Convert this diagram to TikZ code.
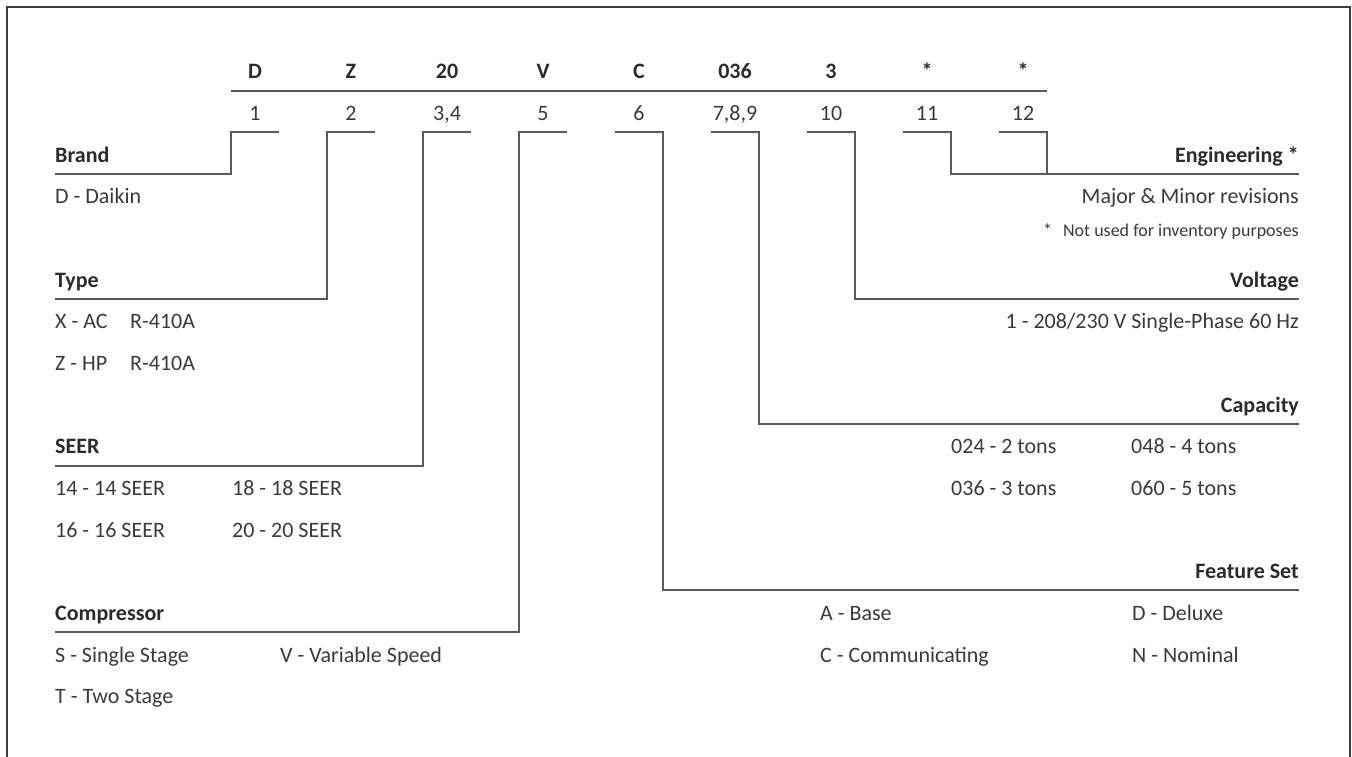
\documentclass[tikz,border=0pt]{standalone}
\usepackage{fontspec}
\setmainfont{Carlito}
\definecolor{txt}{HTML}{3A3A3A}
\definecolor{hd}{HTML}{2B2B2B}
\definecolor{ln}{HTML}{5A5A5A}
\definecolor{frame}{HTML}{3C3C3C}
\begin{document}
\begin{tikzpicture}[x=1pt,y=-1pt,
  codetxt/.style={inner sep=0pt,font=\fontsize{22}{26}\selectfont\bfseries,text=hd,anchor=base},
  posnum/.style={inner sep=0pt,font=\fontsize{22}{26}\selectfont,text=txt,anchor=base},
  headl/.style={inner sep=0pt,font=\fontsize{22}{26}\selectfont\bfseries,text=hd,anchor=base west},
  headr/.style={inner sep=0pt,font=\fontsize{22}{26}\selectfont\bfseries,text=hd,anchor=base east},
  iteml/.style={inner sep=0pt,font=\fontsize{22}{26}\selectfont,text=txt,anchor=base west},
  itemr/.style={inner sep=0pt,font=\fontsize{22}{26}\selectfont,text=txt,anchor=base east},
  noter/.style={inner sep=0pt,font=\fontsize{18}{22}\selectfont,text=txt,anchor=base east},
  conn/.style={draw=ln,line width=1.6pt},
  border/.style={draw=frame,line width=1.6pt}]
\useasboundingbox (0,0) rectangle (1352,756);
% frame
\draw[border] (7,760) -- (7,7) -- (1350,7) -- (1350,760);

% code letters and position numbers
\foreach \n/\c/\p [count=\i from 0] in {a/D/1,b/Z/2,c/20/{3,4},d/V/5,e/C/6,f/036/{7,8,9},g/3/10,h/*/11,k/*/12}{
  \node[codetxt] (c\n) at (255+96*\i,78) {\c};
  \node[posnum] (p\n) at (255+96*\i,120) {\p};
  \coordinate (L\n) at (231+96*\i,132);
  \coordinate (R\n) at (279+96*\i,132);
}
\coordinate (topL) at (231,91);
\coordinate (topR) at (1047,91);
\draw[conn] (topL) -- (topR);

% left side
\node[headl] (brand) at (55,162) {Brand};
\node[iteml] (brand1) at (55,203) {D - Daikin};
\coordinate (brandS) at (55,174);
\draw[conn] (Ra) -- (La) |- (brandS);

\node[headl] (type) at (55,287) {Type};
\node[iteml] (type1) at (55,328) {X - AC};
\node[iteml] (type1b) at (130,328) {R-410A};
\node[iteml] (type2) at (55,370) {Z - HP};
\node[iteml] (type2b) at (130,370) {R-410A};
\coordinate (typeS) at (55,299);
\draw[conn] (Rb) -- (Lb) |- (typeS);

\node[headl] (seer) at (55,453) {SEER};
\node[iteml] (seer1) at (55,495) {14 - 14 SEER};
\node[iteml] (seer2) at (232,495) {18 - 18 SEER};
\node[iteml] (seer3) at (55,537) {16 - 16 SEER};
\node[iteml] (seer4) at (232,537) {20 - 20 SEER};
\coordinate (seerS) at (55,466);
\draw[conn] (Rc) -- (Lc) |- (seerS);

\node[headl] (comp) at (55,620) {Compressor};
\node[iteml] (comp1) at (55,662) {S - Single Stage};
\node[iteml] (comp2) at (280,662) {V - Variable Speed};
\node[iteml] (comp3) at (55,703) {T - Two Stage};
\coordinate (compS) at (55,632);
\draw[conn] (Rd) -- (Ld) |- (compS);

% right side
\node[headr] (feat) at (1299,578) {Feature Set};
\node[iteml] (feat1) at (820,620) {A - Base};
\node[iteml] (feat2) at (1132,620) {D - Deluxe};
\node[iteml] (feat3) at (820,662) {C - Communicating};
\node[iteml] (feat4) at (1132,662) {N - Nominal};
\coordinate (featE) at (1299,590);
\draw[conn] (Le) -- (Re) |- (featE);

\node[headr] (cap) at (1299,412) {Capacity};
\node[iteml] (cap1) at (951,453) {024 - 2 tons};
\node[iteml] (cap2) at (1131,453) {048 - 4 tons};
\node[iteml] (cap3) at (951,495) {036 - 3 tons};
\node[iteml] (cap4) at (1131,495) {060 - 5 tons};
\coordinate (capE) at (1299,424);
\draw[conn] (Lf) -- (Rf) |- (capE);

\node[headr] (volt) at (1299,287) {Voltage};
\node[itemr] (volt1) at (1299,328) {1 - 208/230 V Single-Phase 60 Hz};
\coordinate (voltE) at (1299,299);
\draw[conn] (Lg) -- (Rg) |- (voltE);

\node[headr] (eng) at (1299,162) {Engineering *};
\node[itemr] (eng1) at (1299,203) {Major \& Minor revisions};
\node[noter] (eng2) at (1299,236) {*\hspace{11pt}Not used for inventory purposes};
\coordinate (engE) at (1299,174);
\draw[conn] (Lh) -- (Rh) |- (engE);
\draw[conn] (Lk) -- (Rk) -- (Rk |- engE);
\end{tikzpicture}
\end{document}
